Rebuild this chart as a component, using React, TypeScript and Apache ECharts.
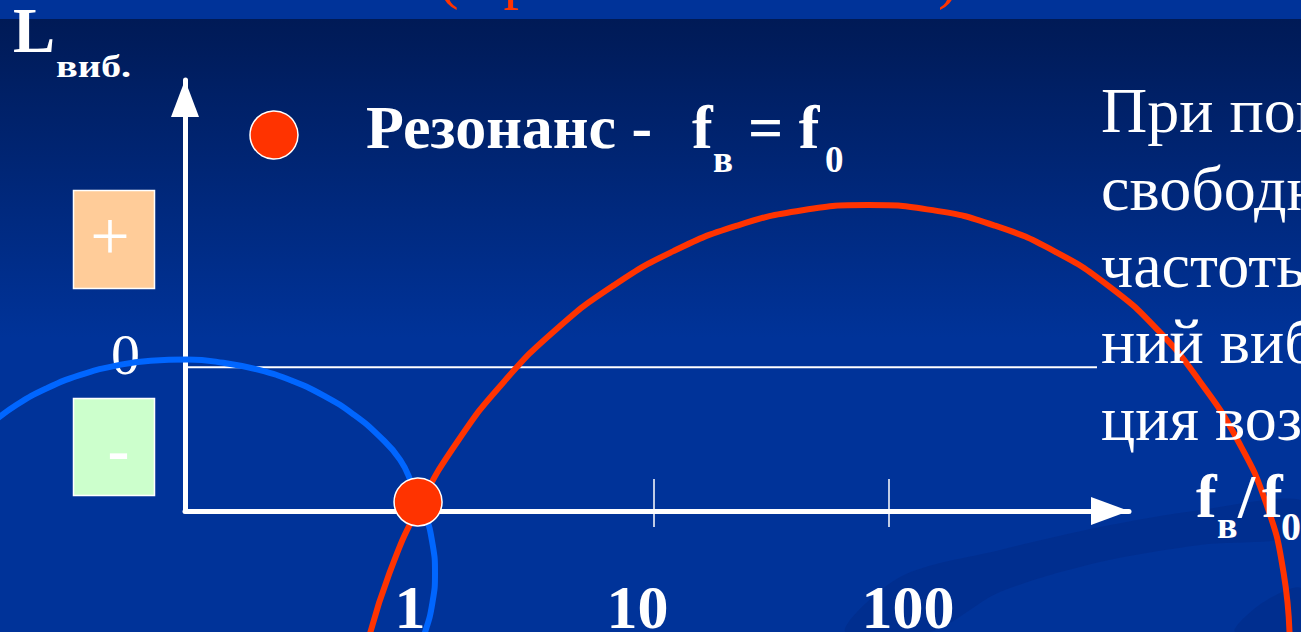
import React, { useEffect, useRef } from "react";
import * as echarts from "echarts";

// ---- axis ticks / labels (frequency ratio f_в / f_0) ----
const tickRatios = [1, 10, 100];
const tickLabels = ["1", "10", "100"];
const majorTickRatios = [10, 100];
const zeroLevelLabels = [0];

// ---- curves: x in decades (log10 of f_в/f_0), y = relative vibration level ----
const blueDecade = [-1.82, -1.705, -1.576, -1.437, -1.289, -1.136, -0.981, -0.827, -0.676, -0.532, -0.397, -0.275, -0.167, -0.076, -0.022, 0.03, 0.061, 0.072, 0.061, 0.03, -0.009];
const blueLevel = [-0.399, -0.261, -0.145, -0.054, 0.01, 0.046, 0.054, 0.032, -0.018, -0.096, -0.2, -0.327, -0.476, -0.644, -0.827, -1.022, -1.225, -1.432, -1.638, -1.841, -1.988];

const redDecade = [-0.217, -0.122, 0.009, 0.172, 0.366, 0.585, 0.827, 1.085, 1.355, 1.633, 1.911, 2.186, 2.451, 2.702, 2.934, 3.141, 3.321, 3.481, 3.604, 3.677, 3.703];
const redLevel = [-1.936, -1.434, -0.954, -0.506, -0.098, 0.262, 0.566, 0.809, 0.986, 1.094, 1.13, 1.094, 0.986, 0.809, 0.566, 0.262, -0.098, -0.506, -0.954, -1.434, -1.936];

const zeroLineDecade = [-0.99, 2.884];
const zeroLineLevel = [0, 0];

const resonanceRatio = [1];
const resonanceLevel = [-0.937];

// ---- axis extents ----
const axisMinDecade = -0.99;
const axisMaxDecade = 3.02;
const axisMinLevel = -1;
const axisMaxLevel = 2;

// ---- texts ----
const titleText = "(Приближение к f0)";
const legendMain = "Резонанс -";
const noteLines = ["При попадании", "свободной", "частоты колеба-", "ний вибра-", "ция возрастает"];

const SERIF = '"Liberation Serif", "Times New Roman", serif';
const RED = "#ff3300";
const BLUE = "#0066ff";

const W = 1301;
const H = 632;
const GRID = { left: 185, right: 172, top: 80, bottom: 121 };
const BLEED = 40;

const pairs = (xs: number[], ys: number[]) => xs.map((x, i) => [x, ys[i]]);

// y anchor for a middle-aligned text, given desired baseline
const mid = (baseline: number, size: number) => baseline - 0.3375 * size;

function txt(
  text: string,
  x: number,
  baseline: number,
  size: number,
  opts: { bold?: boolean; color?: string; align?: string; scaleX?: number } = {}
) {
  return {
    type: "text",
    x,
    y: mid(baseline, size),
    scaleX: opts.scaleX ?? 1,
    z: 20,
    silent: true,
    style: {
      text,
      x: 0,
      y: 0,
      fill: opts.color ?? "#ffffff",
      fontSize: size,
      fontFamily: SERIF,
      fontWeight: opts.bold ? "bold" : "normal",
      align: opts.align ?? "left",
      verticalAlign: "middle",
    },
  };
}

function buildOption() {
  // a second, larger grid with the same scale, so curves can run past the axes
  const gw = W - GRID.left - GRID.right;
  const gh = H - GRID.top - GRID.bottom;
  const pxPerDecade = gw / (axisMaxDecade - axisMinDecade);
  const pxPerLevel = gh / (axisMaxLevel - axisMinLevel);
  const fullMinX = axisMinDecade - (GRID.left + BLEED) / pxPerDecade;
  const fullMaxX = axisMaxDecade + (GRID.right + BLEED) / pxPerDecade;
  const fullMinY = axisMinLevel - (GRID.bottom + BLEED) / pxPerLevel;
  const fullMaxY = axisMaxLevel + (GRID.top + BLEED) / pxPerLevel;

  const labelRich: any = {};
  const pads = [
    [0, 16, 0, 0],
    [0, 32, 0, 0],
    [0, 0, 0, 38],
  ];
  tickLabels.forEach((_, i) => {
    labelRich["t" + i] = {
      fontFamily: SERIF,
      fontWeight: "bold",
      fontSize: 62,
      color: "#ffffff",
      padding: pads[i],
    };
  });

  const graphicEls: any[] = [
    {
      type: "rect",
      z: -20,
      silent: true,
      shape: { x: 0, y: 0, width: W, height: 19 },
      style: { fill: "#003399" },
    },
    {
      type: "rect",
      z: -20,
      silent: true,
      shape: { x: 0, y: 19, width: W, height: H - 19 },
      style: {
        fill: {
          type: "linear",
          x: 0,
          y: 0,
          x2: 0,
          y2: 1,
          colorStops: [
            { offset: 0, color: "#001a56" },
            { offset: 0.52, color: "#003399" },
            { offset: 1, color: "#003399" },
          ],
        },
      },
    },
    {
      type: "polygon",
      z: -15,
      silent: true,
      shape: {
        points: [
          [845, 632],
          [900, 577],
          [1000, 550],
          [1100, 527],
          [1200, 510],
          [1301, 500],
          [1301, 535],
          [1200, 545],
          [1100, 562],
          [1000, 592],
          [930, 632],
        ],
        smooth: 0.3,
      },
      style: { fill: "rgba(0,20,90,0.15)" },
    },
    {
      type: "polygon",
      z: -15,
      silent: true,
      shape: {
        points: [
          [1235, 632],
          [1262, 603],
          [1301, 588],
          [1301, 632],
        ],
        smooth: 0.3,
      },
      style: { fill: "rgba(0,20,90,0.15)" },
    },
    // title fragment (cut at top)
    txt(titleText, 438, -3, 62, { color: RED }),
    // y axis name
    txt("L", 13, 52, 63, { bold: true }),
    txt("виб.", 56, 77, 31, { bold: true, scaleX: 1.3 }),
    // +/- boxes
    {
      type: "rect",
      z: 15,
      silent: true,
      shape: { x: 73.5, y: 190.5, width: 81, height: 98 },
      style: { fill: "#ffcc99", stroke: "#ffffff", lineWidth: 1.5 },
    },
    {
      type: "rect",
      z: 15,
      silent: true,
      shape: { x: 73.5, y: 398.5, width: 81, height: 97 },
      style: { fill: "#ccffcc", stroke: "#ffffff", lineWidth: 1.5 },
    },
    {
      type: "text",
      x: 110,
      y: 236,
      z: 20,
      silent: true,
      style: { text: "+", fill: "#fff", fontSize: 70, fontFamily: SERIF, align: "center", verticalAlign: "middle" },
    },
    {
      type: "text",
      x: 118.5,
      y: 449,
      z: 20,
      silent: true,
      style: { text: "-", fill: "#fff", fontSize: 66, fontWeight: "bold", fontFamily: SERIF, align: "center", verticalAlign: "middle" },
    },
    // legend
    {
      type: "circle",
      z: 20,
      silent: true,
      shape: { cx: 274, cy: 135, r: 24 },
      style: { fill: RED, stroke: "#ffffff", lineWidth: 1.5 },
    },
    txt(legendMain, 366, 148, 62, { bold: true }),
    txt("f", 692, 148, 62, { bold: true }),
    txt("в", 713, 172, 37, { bold: true }),
    txt("= f", 748, 148, 62, { bold: true }),
    txt("0", 825, 172, 37, { bold: true }),
    // x axis name
    txt("f", 1196, 517, 62, { bold: true }),
    txt("в", 1217, 538, 38, { bold: true }),
    txt("/", 1238, 517, 62, { bold: true }),
    txt("f", 1262, 517, 62, { bold: true }),
    txt("0", 1281, 540, 40, { bold: true }),
  ];
  const noteBaselines = [132, 210, 287, 363, 440];
  noteLines.forEach((line, i) => graphicEls.push(txt(line, 1101, noteBaselines[i], 64)));

  const hiddenAxis = {
    show: false,
    axisLine: { show: false },
    axisTick: { show: false },
    axisLabel: { show: false },
    splitLine: { show: false },
  };

  return {
    animation: false,
    backgroundColor: "#003399",
    grid: [
      { ...GRID, outerBoundsMode: "none", containLabel: false },
      { left: -BLEED, right: -BLEED, top: -BLEED, bottom: -BLEED, outerBoundsMode: "none", containLabel: false },
    ],
    xAxis: [
      {
        type: "value",
        gridIndex: 0,
        position: "bottom",
        min: axisMinDecade,
        max: axisMaxDecade,
        axisLine: {
          show: true,
          onZero: false,
          symbol: ["none", "triangle"],
          symbolSize: [28, 38],
          symbolOffset: [0, -19],
          lineStyle: { color: "#ffffff", width: 5 },
        },
        axisTick: {
          show: true,
          inside: true,
          length: 32,
          customValues: majorTickRatios.map((r) => Math.log10(r)),
          lineStyle: { color: "#ffffff", width: 1.5 },
        },
        axisLabel: {
          show: true,
          customValues: tickRatios.map((r) => Math.log10(r)),
          margin: 96,
          verticalAlign: "middle",
          fontFamily: SERIF,
          fontWeight: "bold",
          fontSize: 62,
          color: "#ffffff",
          formatter: (v: number) => {
            const i = tickRatios.findIndex((r) => Math.abs(Math.log10(r) - v) < 1e-6);
            return i < 0 ? "" : `{t${i}|${tickLabels[i]}}`;
          },
          rich: labelRich,
        },
        splitLine: { show: false },
      },
      {
        type: "value",
        gridIndex: 0,
        position: "bottom",
        min: axisMinDecade,
        max: axisMaxDecade,
        axisLine: { show: false, onZero: false },
        axisTick: {
          show: true,
          inside: false,
          length: 16,
          customValues: majorTickRatios.map((r) => Math.log10(r)),
          lineStyle: { color: "#ffffff", width: 1.5 },
        },
        axisLabel: { show: false },
        splitLine: { show: false },
      },
      {
        type: "value",
        gridIndex: 1,
        min: fullMinX,
        max: fullMaxX,
        ...hiddenAxis,
      },
    ],
    yAxis: [
      {
        type: "value",
        gridIndex: 0,
        position: "left",
        min: axisMinLevel,
        max: axisMaxLevel,
        axisLine: {
          show: true,
          onZero: false,
          symbol: ["none", "triangle"],
          symbolSize: [28, 37],
          symbolOffset: [0, -18.5],
          lineStyle: { color: "#ffffff", width: 5 },
        },
        axisTick: { show: false },
        splitLine: { show: false },
        axisLabel: {
          show: true,
          customValues: zeroLevelLabels,
          formatter: (v: number) => `{z|${v}}`,
          margin: 45,
          fontFamily: SERIF,
          fontSize: 58,
          color: "#ffffff",
          verticalAlign: "middle",
          rich: {
            z: {
              fontFamily: SERIF,
              fontSize: 58,
              color: "#ffffff",
              padding: [0, 0, 26, 0],
            },
          },
        },
      },
      {
        type: "value",
        gridIndex: 1,
        min: fullMinY,
        max: fullMaxY,
        ...hiddenAxis,
      },
    ],
    graphic: { elements: graphicEls },
    series: [
      {
        type: "line",
        name: "0",
        xAxisIndex: 0,
        yAxisIndex: 0,
        data: pairs(zeroLineDecade, zeroLineLevel),
        symbol: "none",
        showSymbol: false,
        silent: true,
        z: 1,
        lineStyle: { color: "#ffffff", width: 2 },
      },
      {
        type: "line",
        name: "blue",
        xAxisIndex: 2,
        yAxisIndex: 1,
        data: pairs(blueDecade, blueLevel),
        smooth: 0.5,
        symbol: "none",
        showSymbol: false,
        silent: true,
        z: 3,
        lineStyle: { color: BLUE, width: 6 },
      },
      {
        type: "line",
        name: "red",
        xAxisIndex: 2,
        yAxisIndex: 1,
        data: pairs(redDecade, redLevel),
        smooth: 0.5,
        symbol: "none",
        showSymbol: false,
        silent: true,
        z: 4,
        lineStyle: { color: RED, width: 6 },
      },
      {
        type: "scatter",
        name: "Резонанс",
        xAxisIndex: 0,
        yAxisIndex: 0,
        data: resonanceRatio.map((r, i) => [Math.log10(r), resonanceLevel[i]]),
        symbol: "circle",
        symbolSize: 48,
        clip: false,
        silent: true,
        z: 6,
        itemStyle: { color: RED, opacity: 1, borderColor: "#ffffff", borderWidth: 1.5 },
      },
    ],
  };
}

export default function App() {
  const ref = useRef<HTMLDivElement>(null);
  useEffect(() => {
    document.body.style.margin = "0";
    const chart = echarts.init(ref.current as HTMLDivElement, null, { renderer: "svg" });
    chart.setOption(buildOption() as any);
    return () => chart.dispose();
  }, []);
  return (
    <div
      ref={ref}
      style={{ position: "fixed", left: 0, top: 0, width: W, height: H, overflow: "hidden" }}
    />
  );
}
